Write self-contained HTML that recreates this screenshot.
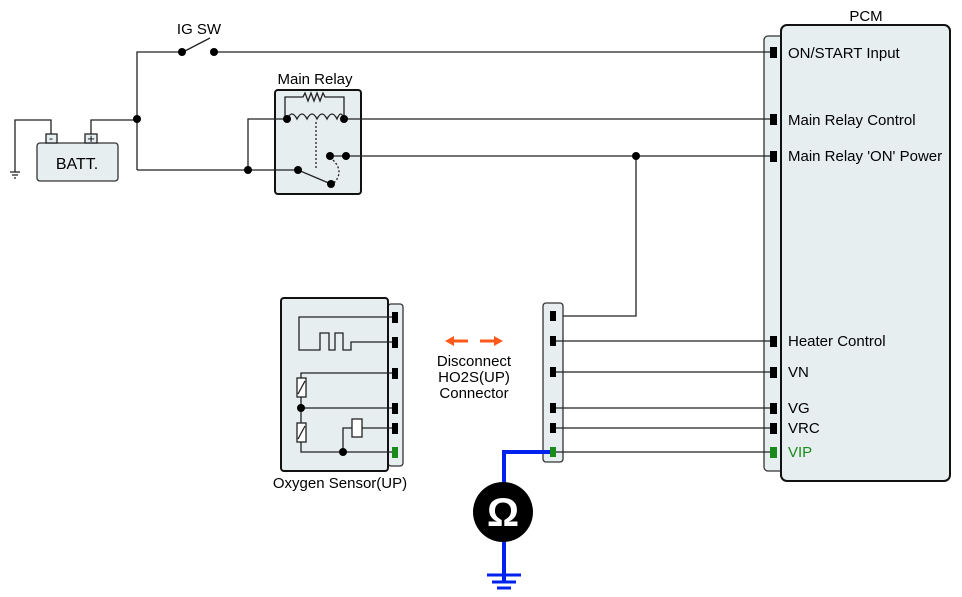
<!DOCTYPE html>
<html><head><meta charset="utf-8"><style>body{margin:0;background:#fff}svg{display:block}text{font-family:"Liberation Sans",sans-serif;font-size:15px;fill:#000}</style></head><body>
<svg width="962" height="597" viewBox="0 0 962 597" xmlns="http://www.w3.org/2000/svg">
<g fill="none" stroke="#222" stroke-width="1.3">
<rect x="764" y="36" width="24" height="435" rx="4" fill="#e6eef0" stroke="#333"/>
<rect x="781" y="25" width="169" height="456" rx="6" fill="#e6eef0" stroke="#111" stroke-width="2"/>
<rect x="37" y="143" width="81" height="38" rx="3" fill="#e6eef0" stroke="#333"/>
<rect x="46" y="134" width="11" height="9" fill="#e6eef0"/>
<rect x="85" y="134" width="12" height="9" fill="#e6eef0"/>
<path d="M51 134V120H15V172M10 172h10M12 175h6M14 178h2"/>
<path d="M91 134V120H137"/>
<path d="M137 170V52H182M183 52L210 38M214 52H770"/>
<rect x="275" y="90" width="86" height="104" rx="3" fill="#e6eef0" stroke="#111" stroke-width="2"/>
<path d="M248 170V119H287M285 119V97H303l2-4 3 8 3-8 3 8 3-8 3 8 3-8 2 4H344V119"/>
<path d="M287 119q5-10 10 0q5-10 10 0q5-10 10 0q5-10 10 0q5-10 10 0q4-10 7 0"/>
<path d="M344 119H770"/>
<path d="M137 170H298L331 184"/>
<path d="M316 122V170" stroke-dasharray="2 2"/>
<path d="M333 160q12 12 0 24" stroke-dasharray="2 2"/>
<path d="M330 156H770"/>
<path d="M636 156V316H555"/>
<rect x="388" y="304" width="15" height="162" rx="3" fill="#e6eef0" stroke="#333"/>
<rect x="281" y="298" width="107" height="173" rx="3" fill="#e6eef0" stroke="#111" stroke-width="2"/>
<path d="M392 317H299V350H320V333H329V350H335V333H343V350H351V342H392"/>
<path d="M392 373H301V408M301 408H392M301 408V452H392M343 452V428H352M362 428H392"/>
<rect x="297" y="378" width="9" height="19" fill="#fff"/><path d="M298 394l7-13"/>
<rect x="297" y="423" width="9" height="19" fill="#fff"/><path d="M298 439l7-13"/>
<rect x="352" y="419" width="10" height="18" fill="#fff"/>
<rect x="543" y="303" width="20" height="159" rx="3" fill="#e6eef0" stroke="#333"/>
<path d="M555 341H770M555 372H770M555 408H770M555 428H770M555 452H770"/>
</g>
<path d="M553 452H504V582" fill="none" stroke="#0022ee" stroke-width="4"/>
<path d="M487 575h34M492 582h24M497 588h14" stroke="#0022ee" stroke-width="3"/>
<circle cx="503" cy="512" r="30" fill="#000"/>
<text x="503" y="526" text-anchor="middle" style="font-size:40px;font-weight:bold;fill:#fff">Ω</text>
<g fill="#000">
<circle cx="137" cy="119" r="4"/><circle cx="182" cy="52" r="4"/><circle cx="214" cy="52" r="4"/>
<circle cx="248" cy="170" r="4"/><circle cx="287" cy="119" r="4"/><circle cx="344" cy="119" r="4"/>
<circle cx="298" cy="170" r="4"/><circle cx="331" cy="184" r="4"/><circle cx="330" cy="156" r="4"/><circle cx="346" cy="156" r="4"/>
<circle cx="636" cy="156" r="4"/><circle cx="301" cy="408" r="4"/><circle cx="343" cy="452" r="4"/>
<rect x="770" y="47" width="7" height="11"/><rect x="770" y="114" width="7" height="11"/><rect x="770" y="151" width="7" height="11"/>
<rect x="770" y="336" width="7" height="11"/><rect x="770" y="367" width="7" height="11"/><rect x="770" y="403" width="7" height="11"/><rect x="770" y="423" width="7" height="11"/>
<rect x="392" y="312" width="6" height="11"/><rect x="392" y="337" width="6" height="11"/><rect x="392" y="368" width="6" height="11"/><rect x="392" y="403" width="6" height="11"/><rect x="392" y="423" width="6" height="11"/>
<rect x="550" y="311" width="6" height="10"/><rect x="550" y="336" width="6" height="10"/><rect x="550" y="367" width="6" height="10"/><rect x="550" y="403" width="6" height="10"/><rect x="550" y="423" width="6" height="10"/>
</g>
<g fill="#1a8a1a"><rect x="770" y="447" width="7" height="11"/><rect x="392" y="447" width="6" height="11"/><rect x="550" y="447" width="6" height="10"/></g>
<text x="51" y="142" text-anchor="middle" style="font-size:12px">-</text>
<text x="91" y="143" text-anchor="middle" style="font-size:13px">+</text>
<path d="M453 341h15M480 341h15" stroke="#ff5a1a" stroke-width="3"/>
<path d="M445 341l9-5v10z M503 341l-9-5v10z" fill="#ff5a1a"/>
<text x="77" y="169" text-anchor="middle" style="font-size:16px">BATT.</text>
<text x="199" y="34" text-anchor="middle">IG SW</text>
<text x="315" y="84" text-anchor="middle">Main Relay</text>
<text x="866" y="21" text-anchor="middle">PCM</text>
<text x="788" y="58">ON/START Input</text>
<text x="788" y="125">Main Relay Control</text>
<text x="788" y="161">Main Relay 'ON' Power</text>
<text x="788" y="346">Heater Control</text>
<text x="788" y="377">VN</text>
<text x="788" y="413">VG</text>
<text x="788" y="433">VRC</text>
<text x="788" y="457" style="fill:#1a8a1a">VIP</text>
<text x="474" y="366" text-anchor="middle">Disconnect</text>
<text x="474" y="382" text-anchor="middle">HO2S(UP)</text>
<text x="474" y="398" text-anchor="middle">Connector</text>
<text x="340" y="488" text-anchor="middle">Oxygen Sensor(UP)</text>
</svg>
</body></html>
